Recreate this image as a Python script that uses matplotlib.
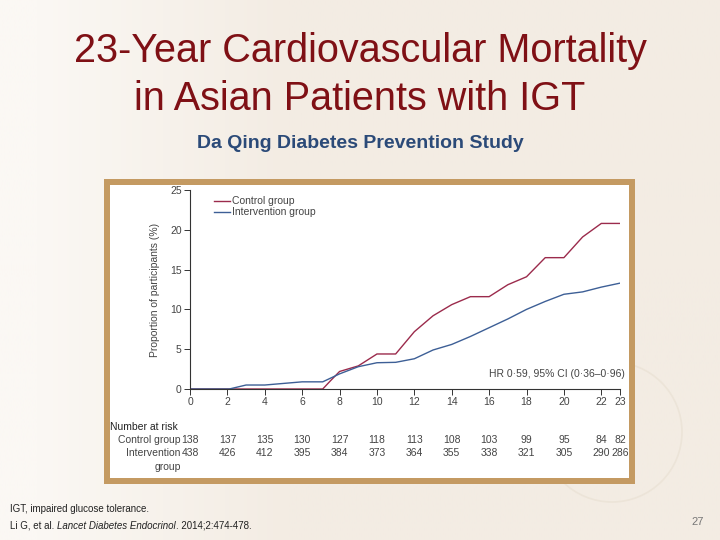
import numpy as np
import matplotlib.pyplot as plt
from matplotlib.patches import Rectangle, Ellipse
from matplotlib.colors import LinearSegmentedColormap

# Datos (curvas acumuladas, %)
years_ctrl = [0, 7.1, 7.5, 8.0, 9.0, 10.0, 11.0, 12.0, 13.0, 14.0, 15.0, 16.0,
              17.0, 18.0, 19.0, 20.0, 21.0, 22.0, 23.0]
ctrl = [0, 0, 1.0, 2.2, 2.9, 4.4, 4.4, 7.2, 9.2, 10.6, 11.6, 11.6,
        13.1, 14.1, 16.5, 16.5, 19.1, 20.8, 20.8]

years_int = [0, 2.1, 3.0, 4.0, 6.0, 7.1, 8.0, 9.0, 10.0, 11.0, 12.0, 13.0,
             14.0, 15.0, 16.0, 17.0, 18.0, 19.0, 20.0, 21.0, 22.0, 23.0]
interv = [0, 0, 0.5, 0.5, 0.9, 0.9, 1.9, 2.8, 3.3, 3.35, 3.8, 4.9,
          5.6, 6.6, 7.7, 8.8, 10.0, 11.0, 11.9, 12.2, 12.8, 13.3]

# Numero en riesgo
risk_years = [0, 2, 4, 6, 8, 10, 12, 14, 16, 18, 20, 22, 23]
risk_ctrl = [138, 137, 135, 130, 127, 118, 113, 108, 103, 99, 95, 84, 82]
risk_int = [438, 426, 412, 395, 384, 373, 364, 355, 338, 321, 305, 290, 286]

xticks = [0, 2, 4, 6, 8, 10, 12, 14, 16, 18, 20, 22, 23]
yticks = [0, 5, 10, 15, 20, 25]

W, H = 720, 540
fig = plt.figure(figsize=(7.2, 5.4), dpi=100)
fig.patch.set_facecolor('#f3ece3')

# Fondo: degradado claro a la izquierda
bg = fig.add_axes([0, 0, 1, 1], zorder=-10)
xx = np.linspace(0, 1, 300)
grad = np.clip((xx - 0.05) / 0.35, 0, 1)
bg.imshow(grad[np.newaxis, :], aspect='auto', extent=[0, 1, 0, 1],
          cmap=LinearSegmentedColormap.from_list('bgc', ['#fbf8f4', '#f3ece3']))
bg.add_patch(Ellipse((612 / W, 1 - 432 / H), 140 / W, 140 / H, transform=bg.transAxes,
                     facecolor='none', edgecolor='#ece4d8', lw=1.2))
bg.set_xlim(0, 1)
bg.set_ylim(0, 1)
bg.axis('off')

# Marco dorado del grafico
fig.patches.append(Rectangle((104 / W, 1 - 484 / H), 531 / W, 305 / H, transform=fig.transFigure,
                             facecolor='#c49a62', edgecolor='none', zorder=-5))
fig.patches.append(Rectangle((110 / W, 1 - 478 / H), 519 / W, 293 / H, transform=fig.transFigure,
                             facecolor='white', edgecolor='none', zorder=-4))

# Titulos
fig.text(0.5, 1 - 51 / H, '23-Year Cardiovascular Mortality', ha='center', va='center',
         fontsize=28.5, color='#7f1015', family='Liberation Sans')
fig.text(0.5, 1 - 99 / H, 'in Asian Patients with IGT', ha='center', va='center',
         fontsize=28.5, color='#7f1015', family='Liberation Sans')
fig.text(0.5, 1 - 143 / H, 'Da Qing Diabetes Prevention Study', ha='center', va='center',
         fontsize=14, color='#2b4a78', fontweight='bold', family='Liberation Sans')

# Grafico principal
fam = 'Liberation Sans'
fs = 7.5
tcol = '#444444'
ax = fig.add_axes([190 / W, 1 - 389 / H, 430 / W, 199 / H])
ax.set_facecolor('none')
ax.plot(years_ctrl, ctrl, color='#9b2b4c', lw=1.0, label='Control group')
ax.plot(years_int, interv, color='#3d5f96', lw=1.0, label='Intervention group')
ax.set_xlim(0, 23)
ax.set_ylim(0, 25)
ax.set_xticks(xticks)
ax.set_yticks(yticks)
for s in ['top', 'right']:
    ax.spines[s].set_visible(False)
for s in ['left', 'bottom']:
    ax.spines[s].set_color('#333333')
    ax.spines[s].set_linewidth(0.8)
ax.tick_params(direction='out', length=4, width=0.7, colors='#333333', labelsize=fs, pad=2)
for lab in ax.get_xticklabels() + ax.get_yticklabels():
    lab.set_color(tcol)
    lab.set_family(fam)
ax.set_ylabel('Proportion of participants (%)', fontsize=fs, color=tcol, family=fam, labelpad=7)

leg = ax.legend(loc='upper left', bbox_to_anchor=(0.045, 0.99), frameon=False, fontsize=fs,
                handlelength=1.6, handletextpad=0.2, labelspacing=0.1, borderaxespad=0)
for t in leg.get_texts():
    t.set_color(tcol)
    t.set_family(fam)

ax.text(1.012, 0.075, 'HR 0·59, 95% CI (0·36–0·96)', transform=ax.transAxes, ha='right',
        va='center', fontsize=fs, color=tcol, family=fam)

# Tabla de numero en riesgo
trans = ax.get_xaxis_transform()
ax.text(-0.186, -0.19, 'Number at risk', transform=ax.transAxes, ha='left', va='center',
        fontsize=fs, color='#222222', family=fam)
ax.text(-0.022, -0.256, 'Control group', transform=ax.transAxes, ha='right', va='center',
        fontsize=fs, color=tcol, family=fam)
ax.text(-0.022, -0.322, 'Intervention', transform=ax.transAxes, ha='right', va='center',
        fontsize=fs, color=tcol, family=fam)
ax.text(-0.022, -0.39, 'group', transform=ax.transAxes, ha='right', va='center',
        fontsize=fs, color=tcol, family=fam)
for xr, c, i in zip(risk_years, risk_ctrl, risk_int):
    ax.text(xr, -0.256, str(c), transform=trans, ha='center', va='center', fontsize=fs,
            color=tcol, family=fam, clip_on=False)
    ax.text(xr, -0.322, str(i), transform=trans, ha='center', va='center', fontsize=fs,
            color=tcol, family=fam, clip_on=False)

# Notas al pie
fig.text(10 / W, 1 - 509 / H, 'IGT, impaired glucose tolerance.', ha='left', va='center',
         fontsize=7, color='#222222', family='Liberation Sans')
t1 = fig.text(10 / W, 1 - 526 / H, 'Li G, et al. ', ha='left', va='center',
              fontsize=7, color='#222222', family='Liberation Sans')
t2 = fig.text(0, 0, 'Lancet Diabetes Endocrinol', fontsize=7, color='#222222',
              style='italic', family='Liberation Sans')
t3 = fig.text(0, 0, '. 2014;2:474-478.', fontsize=7, color='#222222', family='Liberation Sans')
fig.canvas.draw()
r = fig.canvas.get_renderer()
bb1 = t1.get_window_extent(r)
t2.set_position((bb1.x1 / W, 1 - 526 / H))
t2.set_va('center')
bb2 = t2.get_window_extent(r)
t3.set_position((bb2.x1 / W, 1 - 526 / H))
t3.set_va('center')
fig.text(698 / W, 1 - 522 / H, '27', ha='center', va='center', fontsize=8, color='#777777',
         family='Liberation Sans')

fig.savefig('out.png', dpi=100, facecolor=fig.get_facecolor())
